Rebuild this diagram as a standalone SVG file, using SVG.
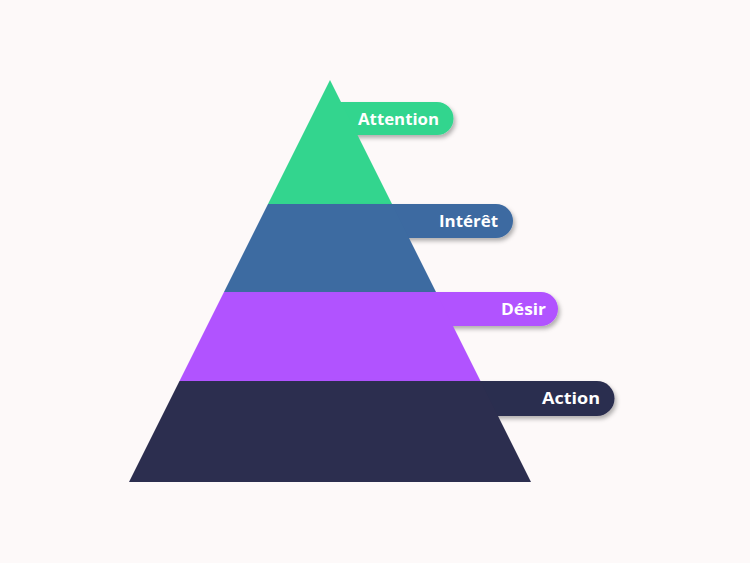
<svg xmlns="http://www.w3.org/2000/svg" width="750" height="563" viewBox="0 0 750 563">
  <defs>
    <filter id="sh" x="-20%" y="-40%" width="140%" height="200%">
      <feDropShadow dx="2" dy="3" stdDeviation="2" flood-color="#000" flood-opacity="0.3"/>
    </filter>
  </defs>
  <style>
    .lbl { font-family: "Open Sans", "Liberation Sans", sans-serif; font-weight: 700; font-size: 16px; fill: #ffffff; text-anchor: end; }
    .pill { filter: url(#sh); }
  </style>
  <rect width="750" height="563" fill="#FDF9F9"/>
  <g id="attention">
    <path class="pill" d="M330,102 H437 A16.5,16.5 0 0 1 437,135 H330 Z" fill="#33D58E"/>
    <polygon points="330,80 392,204 268,204" fill="#33D58E"/>
    <text class="lbl" x="439" y="125" textLength="81" lengthAdjust="spacingAndGlyphs">Attention</text>
  </g>
  <g id="interet">
    <path class="pill" d="M330,204 H496 A17,17 0 0 1 496,238 H330 Z" fill="#3D6BA1"/>
    <polygon points="268,204 392,204 436,292 224,292" fill="#3D6BA1"/>
    <text class="lbl" x="498" y="227" textLength="59" lengthAdjust="spacingAndGlyphs">Intérêt</text>
  </g>
  <g id="desir">
    <path class="pill" d="M330,292 H541 A17,17 0 0 1 541,326 H330 Z" fill="#B153FF"/>
    <polygon points="224,292 436,292 480.5,381 179.5,381" fill="#B153FF"/>
    <text class="lbl" x="546" y="315" textLength="45" lengthAdjust="spacingAndGlyphs">Désir</text>
  </g>
  <g id="action">
    <path class="pill" d="M330,381 H597 A17.5,17.5 0 0 1 597,416 H330 Z" fill="#2C2E4F"/>
    <polygon points="179.5,381 480.5,381 531,482 129,482" fill="#2C2E4F"/>
    <text class="lbl" x="600" y="404" textLength="58" lengthAdjust="spacingAndGlyphs">Action</text>
  </g>
  <g id="connectors"></g>
</svg>
